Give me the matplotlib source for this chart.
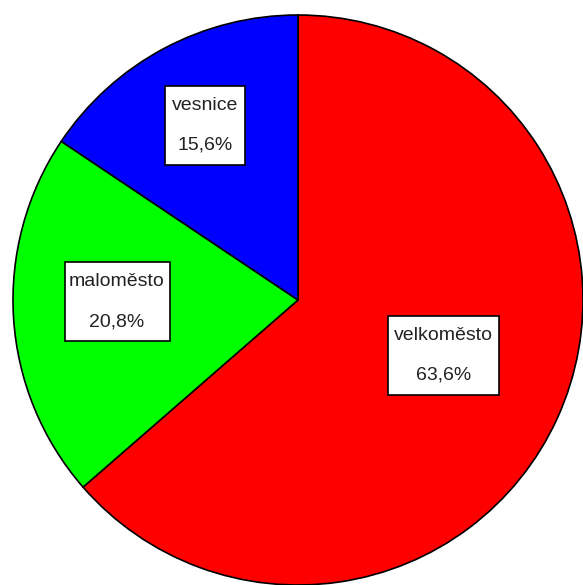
import matplotlib
matplotlib.use("Agg")
import matplotlib.pyplot as plt
import numpy as np
from matplotlib.patches import Rectangle

# data
kategorie = ["velkoměsto", "maloměsto", "vesnice"]
podily = [63.6, 20.8, 15.6]
barvy = ["#ff0000", "#00ff00", "#0000ff"]

W, H = 583, 585
fig = plt.figure(figsize=(W / 100, H / 100), dpi=100)
ax = fig.add_axes([0, 0, 1, 1])

cx, cy, r = 298, H - 300, 285
wedges, _ = ax.pie(podily, colors=barvy, startangle=90, counterclock=False,
                   center=(cx, cy), radius=r, frame=True,
                   wedgeprops=dict(edgecolor="black", linewidth=1.2))
ax.set_xlim(0, W)
ax.set_ylim(0, H)
ax.axis("off")

# label boxes: distance from centre (fraction of r), angle shift, box width
vzdalenost = [0.545, 0.635, 0.695]
posun = [3.7, -3.0, 0]
sirka = [111, 105, 80]
vyska = 79

for w, kat, p, d, s, bw in zip(wedges, kategorie, podily, vzdalenost, posun, sirka):
    ang = np.deg2rad((w.theta1 + w.theta2) / 2 + s)
    x = cx + d * r * np.cos(ang)
    y = cy + d * r * np.sin(ang)
    ax.add_patch(Rectangle((x - bw / 2, y - vyska / 2), bw, vyska,
                           facecolor="white", edgecolor="black", lw=1.2, zorder=5))
    ax.text(x, y + 20, kat, ha="center", va="center", fontsize=14,
            family="Liberation Sans", color="#222222", zorder=6)
    ax.text(x, y - 20, f"{p:.1f}%".replace(".", ","), ha="center", va="center",
            fontsize=14, family="Liberation Sans", color="#222222", zorder=6)

fig.savefig("out.png", dpi=100)
